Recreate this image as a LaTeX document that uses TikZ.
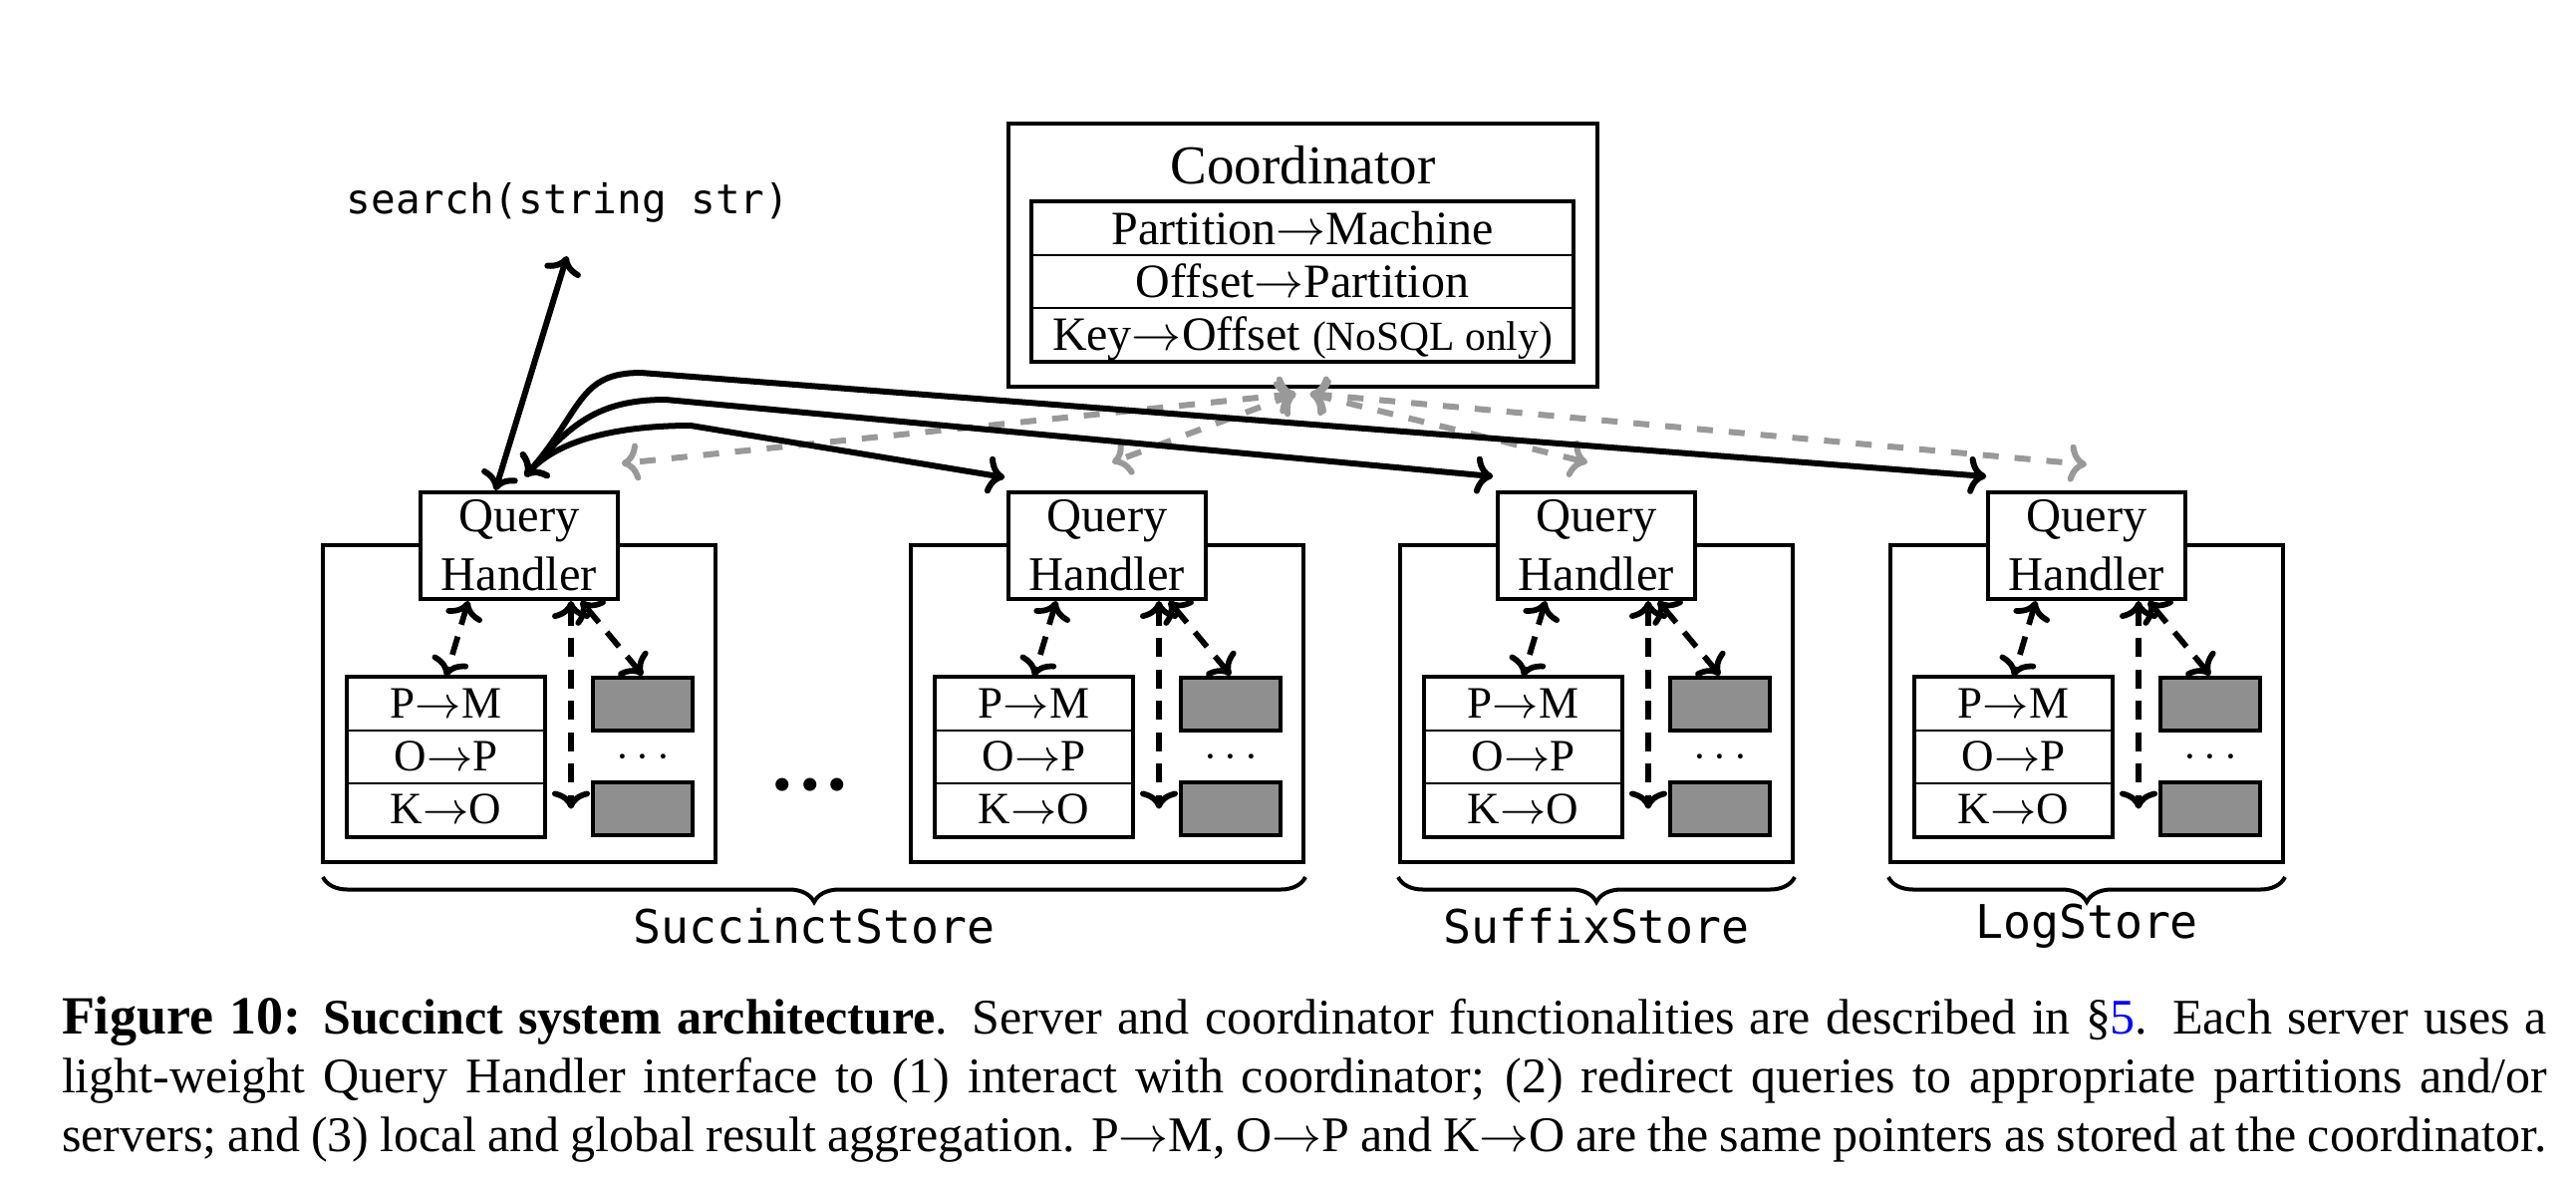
\documentclass[tikz,border=0pt]{standalone}
\usepackage{fontspec}
\setmainfont{Liberation Serif}
\newfontfamily\monof{DejaVu Sans Mono}
\usepackage{graphicx}
\usetikzlibrary{arrows.meta,calc,decorations.pathreplacing}
\begin{document}
\begin{tikzpicture}[x=0.2pt,y=-0.2pt,
  >={Computer Modern Rightarrow[length=3.6pt,width=7.6pt]},
  outerbox/.style={draw, line width=0.8pt, minimum width=78.8pt, minimum height=63.6pt, inner sep=0pt},
  qhbox/.style={draw, fill=white, line width=0.8pt, minimum width=39.5pt, minimum height=21.4pt, inner sep=0pt, align=center, font=\fontsize{9.7}{11.8}\selectfont},
  rowbox/.style={draw, line width=0.4pt, minimum width=39.4pt, minimum height=10.6pt, inner sep=0pt, text height=6.2pt, text depth=0.4pt, font=\fontsize{9}{10}\selectfont},
  graybox/.style={draw, fill=black!44, line width=0.8pt, minimum width=20pt, minimum height=10.6pt, inner sep=0pt},
  ctrow/.style={draw, line width=0.4pt, minimum width=108.4pt, minimum height=10.6pt, inner sep=0pt, text height=7.6pt, text depth=1.2pt, font=\fontsize{9.6}{10}\selectfont},
  storelabel/.style={font=\monof\fontsize{9.3}{10}\selectfont, inner sep=0pt},
  solidarrow/.style={<->, line width=1.2pt},
  dasharrow/.style={<->, line width=1.15pt, dash pattern=on 3.8pt off 2.5pt},
  grayarrow/.style={<->, draw=black!40, line width=1.2pt, dash pattern=on 3.2pt off 3.2pt},
  storebrace/.style={decorate, decoration={brace, mirror, amplitude=5pt}, line width=0.8pt},
]
\useasboundingbox (0,0) rectangle (2585,1190);

% Coordinator
\node[draw, line width=0.8pt, minimum width=118.2pt, minimum height=52.8pt, inner sep=0pt] (coord) at (1307.5,256) {};
\node[font=\fontsize{11}{12}\selectfont, inner sep=0pt] (ctitle) at (1307.5,166) {Coordinator};
\node[ctrow] (cpm) at (1307,229.75) {Partition$\rightarrow$Machine};
\node[ctrow] (cop) at (1307,282.5) {Offset$\rightarrow$Partition};
\node[ctrow] (cko) at (1307,335.5) {Key$\rightarrow$Offset {\fontsize{8.3}{9}\selectfont(NoSQL only)}};
\draw[line width=0.8pt] (cpm.north west) rectangle (cko.south east);

% Servers
\foreach \i/\x in {1/324,2/914,3/1405,4/1897}{
  \node[outerbox] (srv\i) at (\x+197,706) {};
  \node[qhbox] (qh\i) at (\x+197,547.5) {Query\\Handler};
  \node[rowbox] (pm\i) at (\x+123.5,706) {P$\rightarrow$M};
  \node[rowbox] (op\i) at (\x+123.5,759) {O$\rightarrow$P};
  \node[rowbox] (ko\i) at (\x+123.5,812) {K$\rightarrow$O};
  \draw[line width=0.8pt] (pm\i.north west) rectangle (ko\i.south east);
  \node[graybox] (ga\i) at (\x+321,706) {};
  \node[graybox] (gb\i) at (\x+321,811.5) {};
  \node[anchor=base, inner sep=0pt, font=\fontsize{9}{10}\selectfont] (sd\i) at (\x+321,770) {$\cdots$};
  \draw[dasharrow] ($(qh\i.south)+(-51,0)$) -- (pm\i.north);
  \draw[dasharrow] ($(qh\i.south)+(52,0)$) coordinate (va\i) -- (va\i |- gb\i.west);
  \draw[dasharrow] (ga\i.north) -- ($(qh\i.south)+(62,0)$);
}

\node[anchor=base, inner sep=0pt, font=\fontsize{22}{24}\selectfont] (bigdots) at (813,792) {...};

% gray coordinator links
\coordinate (cl) at ($(coord.south)+(-7,5)$);
\coordinate (cr) at ($(coord.south)+(7,5)$);
\draw[grayarrow] (cl) -- ($(qh1.north east)+(2,-27)$);
\draw[grayarrow] (cl) -- ($(qh2.north)+(5,-28)$);
\draw[grayarrow] (cr) -- ($(qh3.north)+(-9,-28)$);
\draw[grayarrow] (cr) -- ($(qh4.north)+(0,-26)$);

% search
\node[font=\monof\fontsize{8.2}{10}\selectfont, inner sep=0pt] (search) at (570,203) {search(string str)};
\coordinate (stip) at (569,257);
\draw[solidarrow] ($(qh1.north)+(-24,0)$) -- (stip);

% query handler to query handler
\coordinate (qin) at ($(qh1.north)+(6,-14)$);
\draw[solidarrow] (qin) .. controls (585,411) and (580,374) .. (643,374) -- ($(qh4.north west)+(0,-14)$);
\draw[solidarrow] (qin) .. controls (572,426) and (600,401) .. (668,401) -- ($(qh3.north west)+(-3,-14)$);
\draw[solidarrow] (qin) .. controls (562,438) and (630,427) .. (693,427) -- ($(qh2.north west)+(-2,-13)$);

% braces
\draw[storebrace] ($(srv1.south west)+(2,13)$) -- ($(srv2.south east)+(0,13)$);
\draw[storebrace] ($(srv3.south west)+(0,13)$) -- ($(srv3.south east)+(0,13)$);
\draw[storebrace] ($(srv4.south west)+(0,13)$) -- ($(srv4.south east)+(0,13)$);
\node[storelabel] (lsuccinct) at (817,929) {SuccinctStore};
\node[storelabel] (lsuffix) at (1602,929) {SuffixStore};
\node[storelabel] (llog) at (2094,929) {LogStore};

% caption
\node[anchor=base west, inner sep=0pt] (cap) at (61,1037) {\parbox[t]{498.8pt}{\fontsize{10}{11.8}\selectfont\parfillskip=0pt
\textbf{{\fontsize{10.8}{11.8}\selectfont Figure 10:} Succinct system architecture}. Server and coordinator functionalities are described in §\textcolor{blue}{5}. Each server uses a\linebreak
light-weight Query Handler interface to (1) interact with coordinator; (2) redirect queries to appropriate partitions and/or\linebreak
servers; and (3) local and global result aggregation. P$\rightarrow$M, O$\rightarrow$P and K$\rightarrow$O are the same pointers as stored at the coordinator.}};
\end{tikzpicture}
\end{document}
